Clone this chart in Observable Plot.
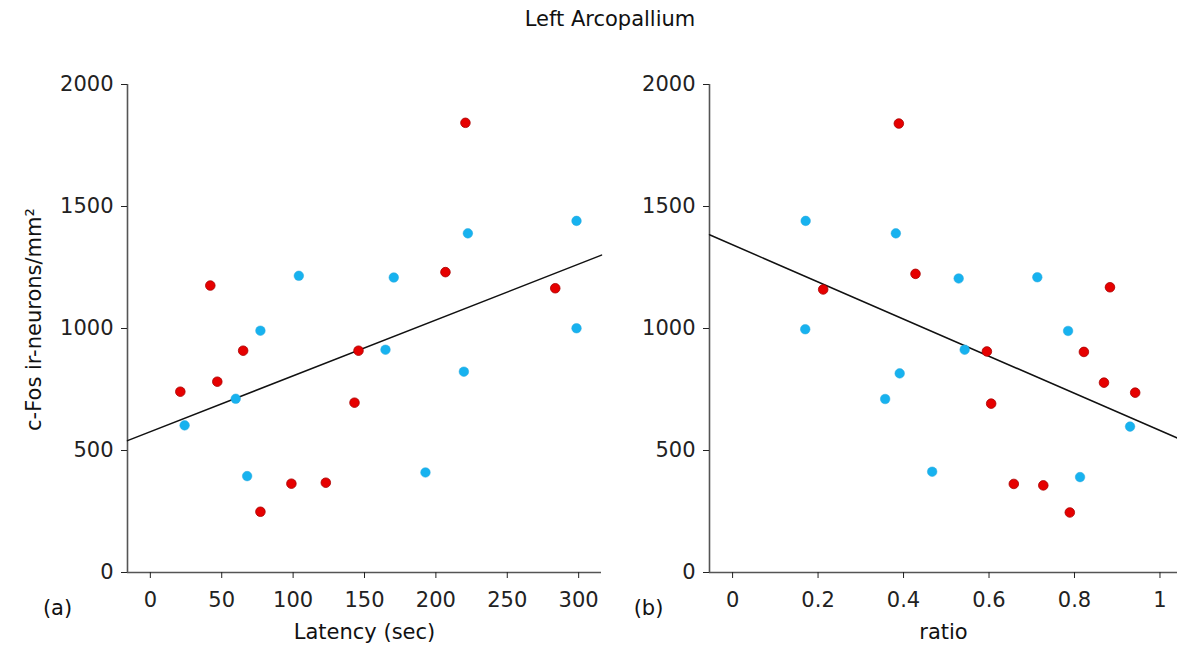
<!DOCTYPE html>
<html><head><meta charset="utf-8">
<script src="https://cdn.jsdelivr.net/npm/d3@7"></script>
<script src="https://cdn.jsdelivr.net/npm/@observablehq/plot@0.6"></script>
<style>
body{margin:0;background:#fff;font-family:"DejaVu Sans",sans-serif;}
#wrap{position:relative;width:1177px;height:647px;overflow:hidden;background:#fff}
#title{position:absolute;left:0;width:1220px;top:7px;text-align:center;font-size:21px;color:#111}
.panel{position:absolute;top:0}
</style></head><body>
<div id="wrap"><div id="title">Left Arcopallium</div><div id="a" class="panel" style="left:0"></div><div id="b" class="panel" style="left:610px"></div></div>
<script>
// Panel (a): latency vs c-Fos
const latencyRed  = [42, 220.7, 206.7, 283.6, 65, 145.8, 46.9, 21, 143, 98.8, 122.9, 77.1];
const cfosLatRed  = [1176, 1843, 1231, 1165, 909, 909, 782, 741, 696, 364, 368, 249];
const latencyBlue = [104, 222.4, 298.5, 170.5, 298.5, 77.1, 59.8, 24, 67.8, 164.7, 219.6, 192.7];
const cfosLatBlue = [1216, 1390, 1441, 1209, 1001, 991, 712, 603, 395, 913, 823, 410];
// Panel (b): ratio vs c-Fos
const ratioRed     = [0.389, 0.428, 0.212, 0.883, 0.595, 0.822, 0.605, 0.869, 0.942, 0.658, 0.727, 0.789];
const cfosRatioRed = [1840, 1224, 1160, 1169, 906, 904, 692, 778, 737, 363, 357, 246];
const ratioBlue     = [0.171, 0.382, 0.529, 0.713, 0.785, 0.170, 0.391, 0.357, 0.467, 0.543, 0.930, 0.813];
const cfosRatioBlue = [1441, 1390, 1205, 1210, 990, 997, 816, 711, 413, 913, 598, 391];
// Regression fits [intercept, slope]
const fitLatency = [577, 2.29];
const fitRatio = [1343, -761];
// Ticks & labels
const yTicks = [0, 500, 1000, 1500, 2000];
const latencyTicks = [0, 50, 100, 150, 200, 250, 300];
const ratioTicks = [0, 0.2, 0.4, 0.6, 0.8, 1];
const groupColors = {red: "#e60000", blue: "#17b2ef"};
const yLabel = "c-Fos ir-neurons/mm²";

function rows(xs, ys, g) { return xs.map((x, i) => ({x, y: ys[i], g})); }

function panel(opts) {
  const {width, marginLeft, marginRight, xDomain, xTicks, xLabel, tag, tagDx, points, fit, showYLabel} = opts;
  const line = xDomain.map(x => ({x, y: fit[0] + fit[1] * x}));
  const txt = {textAnchor: "middle", lineAnchor: "middle", fontSize: 21, fill: "#111"};
  const marks = [
    Plot.ruleY([0], {stroke: "#555", strokeWidth: 1.6}),
    Plot.ruleX([xDomain[0]], {stroke: "#555", strokeWidth: 1.6}),
    Plot.axisX({ticks: xTicks, tickSize: 6, tickPadding: 14, label: null, color: "#222", tickFormat: d => String(d)}),
    Plot.axisY({ticks: yTicks, tickSize: 6, tickPadding: 8, label: null, color: "#222", tickFormat: d => String(d)}),
    Plot.line(line, {x: "x", y: "y", stroke: "#111", strokeWidth: 1.5}),
    Plot.dot(points.filter(d => d.g === "blue"), {x: "x", y: "y", r: 4.8, fill: groupColors.blue, stroke: "#2aa8dd", strokeWidth: 0.5}),
    Plot.dot(points.filter(d => d.g === "red"), {x: "x", y: "y", r: 4.8, fill: groupColors.red, stroke: "#a80000", strokeWidth: 0.8}),
    Plot.text([xLabel], {text: d => d, frameAnchor: "bottom", dy: 60, ...txt}),
    Plot.text([tag], {text: d => d, frameAnchor: "bottom-left", dx: tagDx, dy: 36, ...txt})
  ];
  if (showYLabel) marks.push(Plot.text([yLabel], {text: d => d, frameAnchor: "left", rotate: -90, dx: -93, dy: -9, ...txt}));
  return Plot.plot({
    width, height: 647,
    marginLeft, marginRight, marginTop: 84, marginBottom: 75,
    style: {fontFamily: "DejaVu Sans", fontSize: "21px", background: "transparent", overflow: "visible"},
    x: {domain: xDomain},
    y: {domain: [0, 2000]},
    marks
  });
}

const pointsA = [...rows(latencyRed, cfosLatRed, "red"), ...rows(latencyBlue, cfosLatBlue, "blue")];
const pointsB = [...rows(ratioRed, cfosRatioRed, "red"), ...rows(ratioBlue, cfosRatioBlue, "blue")];

document.getElementById("a").append(panel({
  width: 610, marginLeft: 127, marginRight: 9, xDomain: [-16, 316], xTicks: latencyTicks,
  xLabel: "Latency (sec)", tag: "(a)", tagDx: -70, points: pointsA, fit: fitLatency, showYLabel: true
}));
document.getElementById("b").append(panel({
  width: 567, marginLeft: 99, marginRight: 0, xDomain: [-0.054, 1.041], xTicks: ratioTicks,
  xLabel: "ratio", tag: "(b)", tagDx: -61, points: pointsB, fit: fitRatio, showYLabel: false
}));
</script>
</body></html>
